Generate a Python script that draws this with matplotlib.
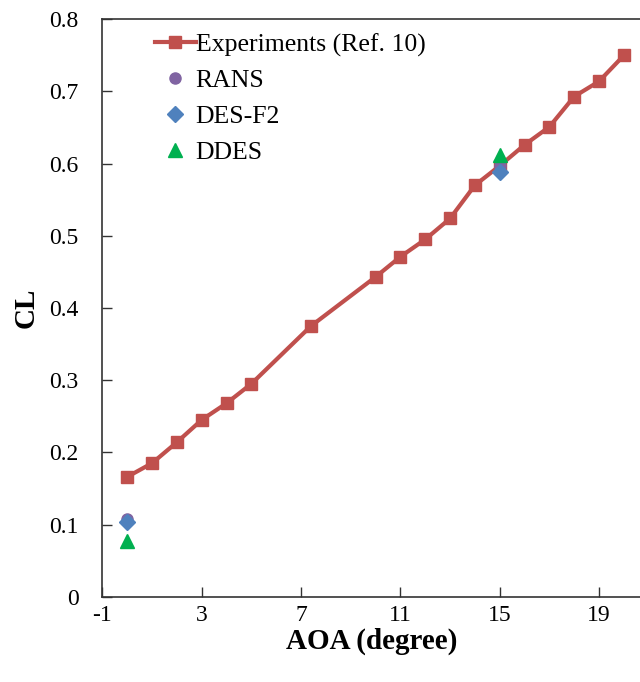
import numpy as np
import matplotlib
matplotlib.use('Agg')
import matplotlib.pyplot as plt

plt.rcParams['font.family'] = ['Liberation Serif', 'DejaVu Serif']
plt.rcParams['axes.unicode_minus'] = False

# experimental lift curve (Ref. 10)
aoa_exp = [0, 1, 2, 3, 4, 5, 7.4, 10, 11, 12, 13, 14, 15, 16, 17, 18, 19, 20]
cl_exp = [0.166, 0.185, 0.214, 0.245, 0.268, 0.295, 0.375, 0.443, 0.471,
          0.495, 0.524, 0.570, 0.597, 0.626, 0.651, 0.693, 0.714, 0.750]

# simulations
aoa_sim = [0, 15]
cl_rans = [0.107, 0.597]
cl_des = [0.104, 0.588]
cl_ddes = [0.077, 0.612]

x_ticks = [-1, 3, 7, 11, 15, 19]
y_ticks = [0, 0.1, 0.2, 0.3, 0.4, 0.5, 0.6, 0.7, 0.8]

fig = plt.figure(figsize=(6.4, 6.82), dpi=100)
ax = fig.add_axes([0.160, 0.1251, 0.840, 0.8466])

ax.plot(aoa_exp, cl_exp, color='#C0504D', lw=3, marker='s', ms=8.5,
        label='Experiments (Ref. 10)', zorder=2)
ax.plot(aoa_sim, cl_rans, ls='none', marker='o', ms=8, color='#8064A2',
        label='RANS', zorder=3)
ax.plot(aoa_sim, cl_des, ls='none', marker='D', ms=8, color='#4F81BD',
        label='DES-F2', zorder=4)
ax.plot(aoa_sim, cl_ddes, ls='none', marker='^', ms=10, color='#00B050',
        label='DDES', zorder=5)

ax.set_xlim(-1, 20.65)
ax.set_ylim(0, 0.8)
ax.set_xticks(x_ticks)
ax.set_yticks(y_ticks)
ax.set_yticklabels(['0' if v == 0 else '%.1f' % v for v in y_ticks])

ax.tick_params(axis='both', direction='in', length=7, width=1, colors='#333333',
               labelcolor='black', labelsize=17)
ax.tick_params(axis='x', pad=6)
ax.tick_params(axis='y', pad=17)

for s in ['left', 'bottom', 'top']:
    ax.spines[s].set_color('#333333')
    ax.spines[s].set_linewidth(1.2)
ax.spines['right'].set_visible(False)

ax.set_xlabel('AOA (degree)', fontsize=21, fontweight='bold')
ax.set_ylabel('CL', fontsize=21, fontweight='bold')
ax.xaxis.set_label_coords(0.5, -0.077)
ax.xaxis.label.set_va('center')
ax.yaxis.set_label_coords(-0.142, 0.5)
ax.yaxis.label.set_va('center')

ax.legend(loc='upper left', bbox_to_anchor=(0.097, 0.976), frameon=False,
          fontsize=18.5, handlelength=1.6, handletextpad=0.0, borderpad=0,
          borderaxespad=0, labelspacing=0.5)

fig.savefig('out.png', dpi=100)
